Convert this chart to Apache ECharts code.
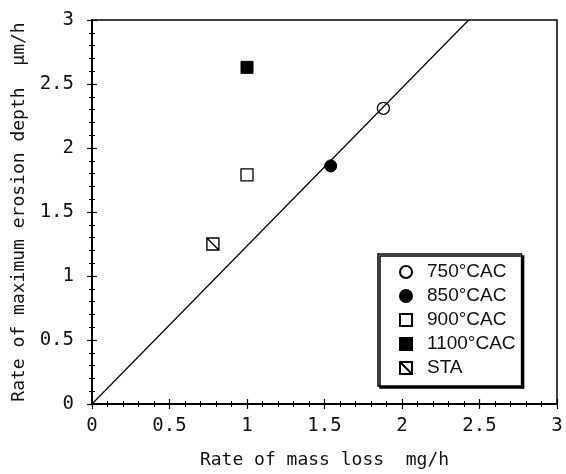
<!DOCTYPE html>
<html>
<head>
<meta charset="utf-8">
<script src="https://cdn.jsdelivr.net/npm/echarts@6/dist/echarts.min.js"></script>
<style>html,body{margin:0;padding:0;background:#fff}#c{width:566px;height:474px}</style>
</head>
<body>
<div id="c"></div>
<script>
// Data
const seriesNames = ['750°CAC', '850°CAC', '900°CAC', '1100°CAC', 'STA'];
const massLoss750 = [1.88];
const depth750 = [2.31];
const massLoss850 = [1.54];
const depth850 = [1.86];
const massLoss900 = [1.0];
const depth900 = [1.79];
const massLoss1100 = [1.0];
const depth1100 = [2.63];
const massLossSTA = [0.78];
const depthSTA = [1.25];
const fitLineX = [0, 2.43];
const fitLineY = [0, 3];
const xTicks = [0, 0.5, 1, 1.5, 2, 2.5, 3];
const yTicks = [0, 0.5, 1, 1.5, 2, 2.5, 3];

const zip = (a, b) => a.map((v, i) => [v, b[i]]);
const monoFont = 'DejaVu Sans Mono';
const staSymbol = 'path://M0,0 L10,0 L10,10 L0,10 Z M0,0 L10,10';

const gridPos = { left: 92, right: 9, top: 20, bottom: 67 };
const tickCommon = { show: true, inside: true, length: 5, lineStyle: { color: '#000', width: 1.2 } };
const minorCommon = { show: true, splitNumber: 5, length: 3, lineStyle: { color: '#000', width: 1 } };

const option = {
  backgroundColor: '#fff',
  animation: false,
  grid: Object.assign({ show: true, borderColor: '#000', borderWidth: 1.5, backgroundColor: 'transparent' }, gridPos),
  xAxis: [{
    type: 'value', min: xTicks[0], max: xTicks[xTicks.length - 1], interval: 0.5,
    position: 'bottom',
    name: 'Rate of mass loss  mg/h', nameLocation: 'middle', nameGap: 47,
    nameTextStyle: { fontFamily: monoFont, fontSize: 18, color: '#111' },
    axisLine: { show: true, lineStyle: { color: '#000', width: 1.5 } },
    axisTick: tickCommon, minorTick: minorCommon,
    splitLine: { show: false },
    axisLabel: { margin: 13, fontFamily: monoFont, fontSize: 19, color: '#111' }
  }, {
    type: 'value', min: xTicks[0], max: xTicks[xTicks.length - 1], interval: 0.5,
    position: 'top',
    axisLine: { show: true, lineStyle: { color: '#000', width: 1.5 } },
    axisTick: tickCommon, minorTick: minorCommon,
    splitLine: { show: false }, axisLabel: { show: false }
  }],
  yAxis: [{
    type: 'value', min: yTicks[0], max: yTicks[yTicks.length - 1], interval: 0.5,
    position: 'left',
    name: 'Rate of maximum erosion depth  μm/h', nameLocation: 'middle', nameGap: 54,
    nameTextStyle: { fontFamily: monoFont, fontSize: 18, color: '#111' },
    axisLine: { show: true, lineStyle: { color: '#000', width: 1.5 } },
    axisTick: tickCommon, minorTick: minorCommon,
    splitLine: { show: false },
    axisLabel: { margin: 18, fontFamily: monoFont, fontSize: 19, color: '#111' }
  }, {
    type: 'value', min: yTicks[0], max: yTicks[yTicks.length - 1], interval: 0.5,
    position: 'right',
    axisLine: { show: true, lineStyle: { color: '#000', width: 1.5 } },
    axisTick: tickCommon, minorTick: minorCommon,
    splitLine: { show: false }, axisLabel: { show: false }
  }],
  legend: {
    orient: 'vertical',
    left: 378, top: 254,
    data: seriesNames,
    itemWidth: 12, itemHeight: 12, itemGap: 4,
    padding: [8, 6, 8, 21],
    backgroundColor: '#fff',
    borderColor: '#000', borderWidth: 1.5,
    shadowColor: '#000', shadowOffsetX: 2, shadowOffsetY: 2, shadowBlur: 0,
    textStyle: { fontFamily: 'Liberation Sans Narrow, Arial Narrow, Liberation Sans, sans-serif', fontSize: 19, color: '#111', lineHeight: 20, width: 84, padding: [0, 0, 0, 10] }
  },
  series: [{
    type: 'line', name: 'fit', data: zip(fitLineX, fitLineY),
    showSymbol: false, symbol: 'none', silent: true,
    lineStyle: { color: '#000', width: 1.2 }, z: 1
  }, {
    type: 'scatter', name: seriesNames[0], data: zip(massLoss750, depth750),
    symbol: 'circle', symbolSize: 12,
    itemStyle: { color: 'transparent', borderColor: '#000', borderWidth: 1.3, opacity: 1 }, z: 3
  }, {
    type: 'scatter', name: seriesNames[1], data: zip(massLoss850, depth850),
    symbol: 'circle', symbolSize: 12,
    itemStyle: { color: '#000', borderColor: '#000', borderWidth: 1, opacity: 1 }, z: 3
  }, {
    type: 'scatter', name: seriesNames[2], data: zip(massLoss900, depth900),
    symbol: 'rect', symbolSize: 12,
    itemStyle: { color: '#fff', borderColor: '#000', borderWidth: 1.3, opacity: 1 }, z: 3
  }, {
    type: 'scatter', name: seriesNames[3], data: zip(massLoss1100, depth1100),
    symbol: 'rect', symbolSize: 12,
    itemStyle: { color: '#000', borderColor: '#000', borderWidth: 1, opacity: 1 }, z: 3
  }, {
    type: 'scatter', name: seriesNames[4], data: zip(massLossSTA, depthSTA),
    symbol: staSymbol, symbolSize: 12,
    itemStyle: { color: 'transparent', borderColor: '#000', borderWidth: 1.4, opacity: 1 }, z: 3
  }]
};

const chart = echarts.init(document.getElementById('c'), null, { renderer: 'canvas' });
chart.setOption(option);
</script>
</body>
</html>
